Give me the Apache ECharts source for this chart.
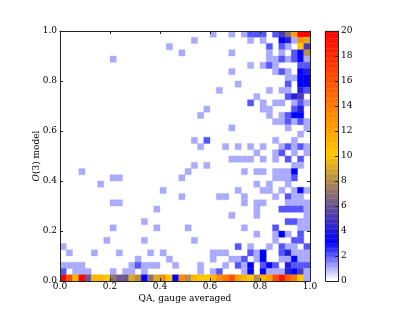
<!DOCTYPE html>
<html><head><meta charset="utf-8">
<style>html,body{margin:0;padding:0;background:#fff}#c{width:415px;height:312px}</style>
<script src="https://cdn.jsdelivr.net/npm/echarts@6/dist/echarts.min.js"></script>
</head><body><div id="c"></div>
<script>
// Row bins from the top of the plot: flat pairs of column bin, count. 40 x 40 bins.
const t0=[24,1,27,1,29,1,30,2,31,2,32,2,34,2,35,5,36,7,37,12,38,20,39,20];
const t1=[21,1,30,1,32,1,35,3,36,4,37,1,38,13,39,9];
const t2=[17,1,33,2,35,2,36,1,38,10,39,5];
const t3=[19,1,27,1,33,1,35,1,37,2,38,3,39,8];
const t4=[8,1,33,1,34,1,35,2,36,1,37,2,38,3,39,1];
const t5=[30,1,32,1,33,2,34,1,38,2,39,2];
const t6=[27,1,34,1,35,2,36,1,38,3,39,4];
const t7=[36,1,37,1,38,3,39,3];
const t8=[28,1,36,2,38,3,39,3];
const t9=[25,1,33,1,35,1,36,1,38,4,39,2];
const t10=[31,1,36,2,37,4,38,5];
const t11=[30,2,32,1,34,1,35,1,37,1,38,2,39,1];
const t12=[23,1,32,1,33,1,37,2,38,4];
const t13=[22,1,33,1,35,1,36,2,37,3,38,3];
const t14=[34,1,35,1,36,2,37,1,38,2,39,1];
const t15=[27,1,36,1,39,1];
const t16=[38,1];
const t17=[21,1,23,2,34,1,37,1];
const t18=[22,1,26,1,28,1,30,1,32,1,35,1,36,2,37,1,38,2,39,1];
const t19=[31,1,34,1,35,2,37,1,39,1];
const t20=[27,1,28,1,29,1,30,1,32,1,34,1,36,2,38,2];
const t21=[21,1,23,1,37,1,38,1];
const t22=[3,1,20,1,29,1,31,1,32,1,34,1,35,1,36,1,37,3];
const t23=[8,1,9,1,19,1,34,1,35,1,36,1,37,2];
const t24=[6,1,31,1,33,1,36,1];
const t25=[16,1,28,1,32,1,33,1,35,1,37,1,38,3,39,1];
const t26=[19,1,25,1,26,1,29,1,34,1,36,2,37,1,38,1];
const t27=[8,1,9,1,29,1,31,1,32,1,36,1,37,1,38,1,39,1];
const t28=[15,1,31,1,35,2,36,2,37,2,38,2,39,1];
const t29=[27,1,31,1,39,1];
const t30=[13,1,36,2,37,2,38,1,39,1];
const t31=[8,1,15,1,20,1,29,1,34,2,38,1,39,1];
const t32=[31,1,34,1,35,3,36,1,38,2];
const t33=[7,1,13,1,21,1,34,1,37,2,38,2];
const t34=[0,1,28,2,30,1,33,1,35,2,36,1,37,1,39,2];
const t35=[1,1,5,1,9,1,14,1,16,1,24,1,25,1,26,1,30,2,31,1,32,3,35,2,36,4,37,1,38,1,39,1];
const t36=[12,1,17,1,24,1,27,1,28,1,29,2,31,1,32,3,35,1,36,1,37,3,38,1,39,1];
const t37=[0,1,1,1,2,1,3,1,11,1,12,2,13,1,14,1,15,1,18,1,22,1,26,1,28,2,29,1,30,3,32,2,33,3,34,2,36,4,37,2,38,2,39,2];
const t38=[0,2,2,1,3,1,4,1,8,1,10,1,11,1,13,1,22,1,24,1,25,2,29,1,30,3,32,3,33,1,34,1,35,1,36,4,37,3,38,5,39,1];
const t39=[0,20,1,16,2,11,3,20,4,6,5,11,6,11,7,10,8,7,9,6,10,6,11,9,12,8,13,3,14,7,15,9,16,13,17,10,18,3,19,13,
           20,8,21,11,22,10,23,10,24,11,25,13,26,14,27,16,28,12,29,11,30,10,31,8,32,11,33,12,34,16,35,19,36,15,37,14,38,10,39,1];
const rowsFromTop=[t0,t1,t2,t3,t4,t5,t6,t7,t8,t9,t10,t11,t12,t13,t14,t15,t16,t17,t18,t19,t20,t21,t22,t23,t24,t25,t26,t27,t28,t29,t30,t31,t32,t33,t34,t35,t36,t37,t38,t39];

const nBins=40;
const stops=[[0,[255,255,255]],[3,[0,0,255]],[10,[255,200,0]],[20,[255,0,0]]];

function colorOf(v){
  for(let i=1;i<stops.length;i++){
    if(v<=stops[i][0]){
      const a=stops[i-1],b=stops[i],f=(v-a[0])/(b[0]-a[0]);
      return 'rgb('+a[1].map((c,k)=>Math.round(c+(b[1][k]-c)*f)).join(',')+')';
    }
  }
  return 'rgb(255,0,0)';
}
const cells=[];
rowsFromTop.forEach((r,t)=>{
  for(let i=0;i<r.length;i+=2) cells.push([r[i]/nBins,(nBins-1-t)/nBins,(r[i]+1)/nBins,(nBins-t)/nBins,r[i+1]]);
});
const barLevels=[];
for(let i=0;i<100;i++) barLevels.push([0,i/5,1,(i+1)/5,i/5]);

function rectItem(params,api){
  const p0=api.coord([api.value(0),api.value(1)]);
  const p1=api.coord([api.value(2),api.value(3)]);
  const c=colorOf(api.value(4));
  return {type:'rect',shape:{x:p0[0],y:p1[1],width:p1[0]-p0[0],height:p0[1]-p1[1]},
          style:{fill:c,stroke:c,lineWidth:0.35}};
}
const font='"DejaVu Serif"';
const line={show:true,onZero:false,lineStyle:{color:'#222',width:1}};
const tick={show:true,inside:true,length:3,lineStyle:{color:'#222',width:1}};
function fmt(v){return v.toFixed(1);}
function valAxis(extra){
  return Object.assign({type:'value',min:0,max:1,interval:0.2,z:5,splitLine:{show:false},axisLine:line,axisTick:tick,
    axisLabel:{show:false}},extra);
}
const option={
  animation:false,backgroundColor:'#fff',
  grid:[{left:60,top:31,width:250,height:250},{left:325,top:31,width:13,height:250}],
  xAxis:[
    valAxis({gridIndex:0,position:'bottom',axisLabel:{show:true,formatter:fmt,fontFamily:font,fontSize:9,color:'#000',margin:1},
      name:'QA, gauge averaged',nameLocation:'middle',nameGap:13,nameMoveOverlap:false,nameTextStyle:{fontFamily:font,fontSize:9,color:'#000'}}),
    valAxis({gridIndex:0,position:'top'}),
    {type:'value',gridIndex:1,min:0,max:1,show:false}
  ],
  yAxis:[
    valAxis({gridIndex:0,position:'left',axisLabel:{show:true,formatter:fmt,fontFamily:font,fontSize:9,color:'#000',margin:3},
      name:'{i|O}(3) model',nameLocation:'middle',nameGap:19,nameMoveOverlap:false,
      nameTextStyle:{fontFamily:font,fontSize:9,color:'#000',rich:{i:{fontFamily:font,fontStyle:'italic',fontSize:9,color:'#000'}}}}),
    valAxis({gridIndex:0,position:'right'}),
    {type:'value',gridIndex:1,position:'right',min:0,max:20,interval:2,z:5,splitLine:{show:false},
      axisLine:line,axisTick:{show:true,inside:true,length:3,lineStyle:{color:'#222',width:1}},
      axisLabel:{fontFamily:font,fontSize:9,color:'#000',margin:3}}
  ],
  series:[
    {type:'custom',xAxisIndex:0,yAxisIndex:0,renderItem:rectItem,data:cells,silent:true,clip:true,encode:{x:[0,2],y:[1,3]}},
    {type:'custom',xAxisIndex:2,yAxisIndex:2,renderItem:rectItem,data:barLevels,silent:true,encode:{x:[0,2],y:[1,3]}}
  ],
  graphic:[{type:'rect',shape:{x:325.5,y:31.5,width:13,height:250},style:{fill:'none',stroke:'#222',lineWidth:1},z:10,silent:true}]
};
const chart=echarts.init(document.getElementById('c'),null,{renderer:'canvas'});
chart.setOption(option);
</script></body></html>
